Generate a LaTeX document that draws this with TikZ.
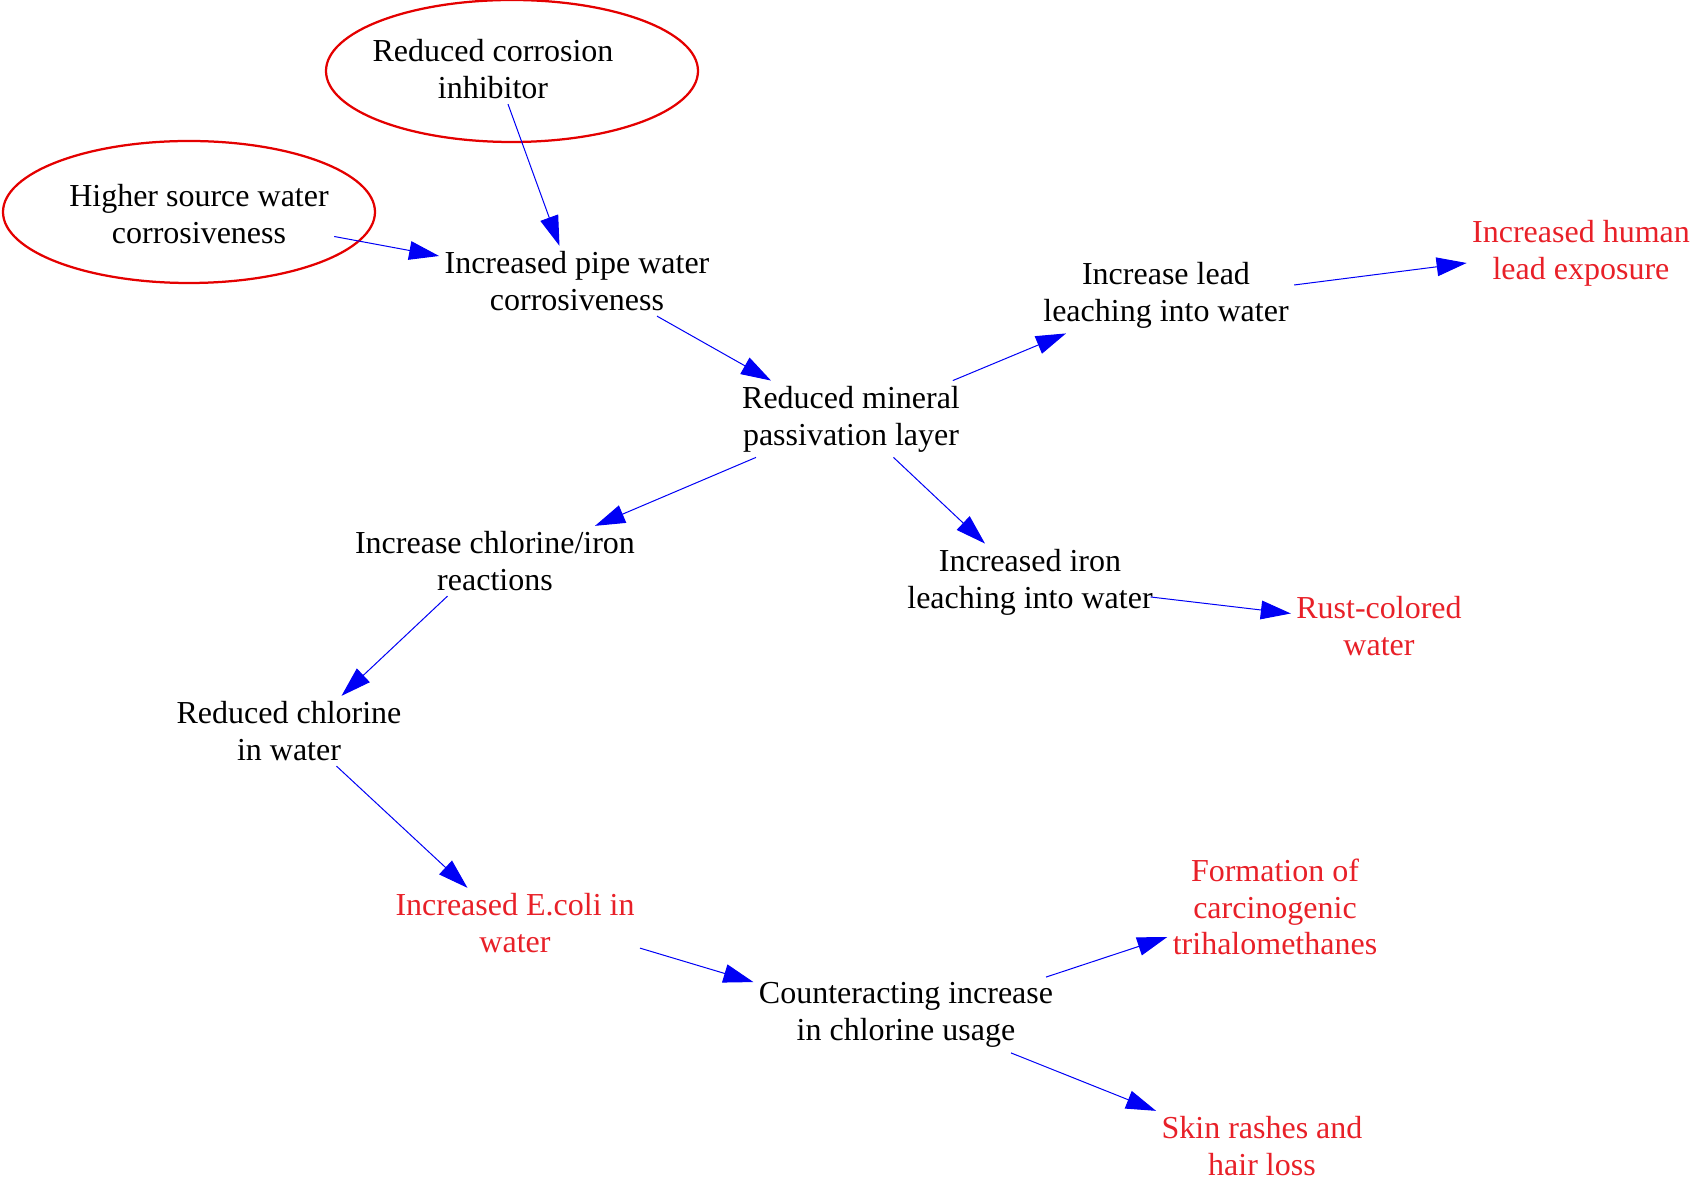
\documentclass[tikz,border=0pt]{standalone}
\usepackage{fontspec}
\setmainfont{Liberation Serif}
\usepackage{xcolor}
\usetikzlibrary{arrows.meta,shapes.geometric}
\definecolor{effect}{RGB}{232,32,40}
\definecolor{ring}{RGB}{228,0,0}
\definecolor{link}{RGB}{0,0,245}

\tikzset{
    var/.style = {align=center, inner sep=2pt, font=\fontsize{12.8}{14.7}\selectfont},
    outcome/.style = {var, text=effect},
    loop/.style = {draw=ring, line width=0.9pt, ellipse, minimum width=148.8pt, minimum height=56.8pt},
    cause/.style = {draw=link, line width=0.4pt, -{Triangle[length=12pt, width=7.5pt, fill=link]}}
}

\begin{document}
\begin{tikzpicture}[x=0.4pt, y=-0.4pt]
    \useasboundingbox (0,0) rectangle (1696,1177);

    \node[loop] (inhibring) at (512,71) {};
    \node[loop] (sourcering) at (189,212) {};

    \node[var] (inhib) at (493,69) {Reduced corrosion\\inhibitor};
    \node[var] (source) at (199,214) {Higher source water\\corrosiveness};
    \node[var] (pipe) at (577,281) {Increased pipe water\\corrosiveness};
    \node[var] (mineral) at (851,419) {Reduced mineral\\passivation layer};
    \node[var] (lead) at (1166,295) {Increase lead\\leaching into water};
    \node[outcome] (human) at (1581,253) {Increased human\\lead exposure};
    \node[var] (chlor) at (495,561) {Increase chlorine/iron\\reactions};
    \node[var] (iron) at (1030,582) {Increased iron\\leaching into water};
    \node[outcome] (rust) at (1379,626) {Rust-colored\\water};
    \node[var] (redchl) at (289,731) {Reduced chlorine\\in water};
    \node[outcome] (ecoli) at (515,923) {Increased E.coli in\\water};
    \node[var] (counter) at (906,1015) {Counteracting increase\\in chlorine usage};
    \node[outcome] (thm) at (1275,907) {Formation of\\carcinogenic\\trihalomethanes};
    \node[outcome] (skin) at (1262,1146) {Skin rashes and\\hair loss};

    \draw[cause] ([xshift=6pt]inhib.south) -- ([xshift=-7pt]pipe.north);
    \draw[cause] ([yshift=-9pt]source.east) -- ([yshift=10pt]pipe.west);
    \draw[cause] ([xshift=32pt]pipe.south) -- ([xshift=-32pt]mineral.north);
    \draw[cause] ([xshift=-5pt]mineral.north east) -- ([xshift=-40pt]lead.south);
    \draw[cause] ([yshift=4pt]lead.east) -- ([yshift=-4pt]human.west);
    \draw[cause] ([xshift=-38pt]mineral.south) -- ([xshift=40pt]chlor.north);
    \draw[cause] ([xshift=17pt]mineral.south) -- ([xshift=-18pt]iron.north);
    \draw[cause] ([xshift=-3pt,yshift=-6pt]iron.east) -- ([yshift=5pt]rust.west);
    \draw[cause] ([xshift=-19pt]chlor.south) -- ([xshift=21pt]redchl.north);
    \draw[cause] ([xshift=19pt]redchl.south) -- ([xshift=-19pt]ecoli.north);
    \draw[cause] ([yshift=4pt]ecoli.south east) -- ([yshift=-2pt]counter.north west);
    \draw[cause] ([xshift=-5pt]counter.north east) -- ([yshift=-12pt]thm.west);
    \draw[cause] ([xshift=42pt]counter.south) -- (skin.north west);
\end{tikzpicture}
\end{document}
